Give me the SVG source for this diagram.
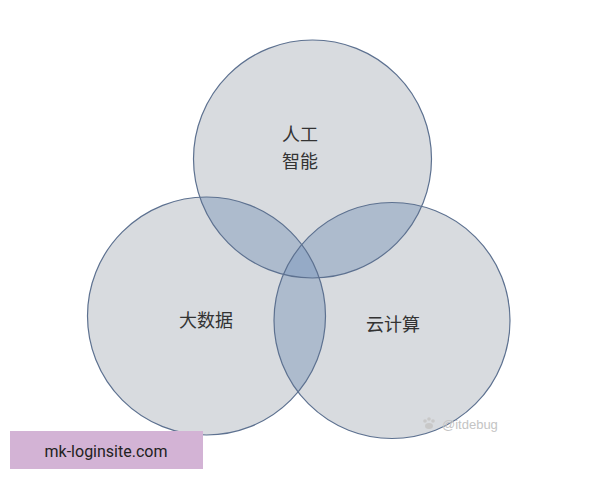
<svg xmlns="http://www.w3.org/2000/svg" width="600" height="480" viewBox="0 0 600 480">
<style>
.base{fill:#d8dbdf;}
.lens{fill:#adbbcd;}
.tri{fill:#95aac6;}
.ring{fill:none;stroke:#5d7190;stroke-width:1.2;}
.lbl{font-family:"Noto Sans CJK SC","Noto Sans",sans-serif;font-size:18px;fill:#333;text-anchor:middle;dominant-baseline:central;}
.wm{font-family:"Liberation Sans",Arial,sans-serif;font-size:13px;fill:#c4c4c4;}
</style>
<defs>
<clipPath id="cA"><circle cx="312.5" cy="159" r="119"/></clipPath>
<clipPath id="cB"><circle cx="206.5" cy="316" r="119"/></clipPath>
<clipPath id="cC"><circle cx="392" cy="320.5" r="118"/></clipPath>
</defs>
<rect width="600" height="480" fill="#ffffff"/>
<g id="fills">
<circle class="base" cx="312.5" cy="159" r="119"/>
<circle class="base" cx="206.5" cy="316" r="119"/>
<circle class="base" cx="392" cy="320.5" r="118"/>
<g clip-path="url(#cA)">
<circle class="lens" cx="206.5" cy="316" r="119"/>
<circle class="lens" cx="392" cy="320.5" r="118"/>
</g>
<g clip-path="url(#cB)">
<circle class="lens" cx="392" cy="320.5" r="118"/>
</g>
<g clip-path="url(#cA)"><g clip-path="url(#cB)">
<circle class="tri" cx="392" cy="320.5" r="118"/>
</g></g>
</g>
<g id="ai">
<circle class="ring" cx="312.5" cy="159" r="119"/>
<text class="lbl" x="300" y="133">人工</text>
<text class="lbl" x="300" y="160">智能</text>
</g>
<g id="bigdata">
<circle class="ring" cx="206.5" cy="316" r="119"/>
<text class="lbl" x="206" y="319">大数据</text>
</g>
<g id="cloud">
<circle class="ring" cx="392" cy="320.5" r="118"/>
<text class="lbl" x="393" y="323">云计算</text>
</g>
<g id="connectors"></g>
<g id="watermark">
<g fill="#c8c8c8">
<circle cx="425" cy="421" r="1.8"/>
<circle cx="429" cy="419" r="1.8"/>
<circle cx="433" cy="421" r="1.8"/>
<ellipse cx="429" cy="426" rx="4" ry="3"/>
</g>
<text class="wm" x="442" y="429">@itdebug</text>
</g>
<g id="badge">
<rect x="10" y="431" width="193" height="38" fill="#d3b3d5"/>
<text x="106" y="451" font-family="Roboto,'Liberation Sans',sans-serif" font-size="16" fill="#222" text-anchor="middle" dominant-baseline="central">mk-loginsite.com</text>
</g>
</svg>
